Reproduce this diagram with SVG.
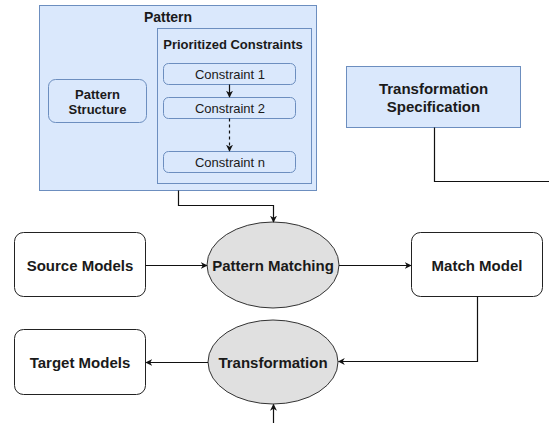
<svg xmlns="http://www.w3.org/2000/svg" width="549" height="423" viewBox="0 0 549 423">
<style>
text{font-family:"Liberation Sans",Arial,sans-serif;fill:#1a1a1a;text-anchor:middle;dominant-baseline:central}
.b{font-weight:bold}
.blue{fill:#dae8fc;stroke:#6c8ebf;stroke-width:1}
.box{fill:#ffffff;stroke:#222;stroke-width:1}
.ell{fill:#e0e0e0;stroke:#333;stroke-width:1}
.c{fill:none;stroke:#111;stroke-width:1.2}
</style>
<defs>
<marker id="ah" viewBox="0 0 10 10" refX="9" refY="5" markerWidth="7" markerHeight="7" orient="auto" markerUnits="userSpaceOnUse">
<path d="M0,0 L10,5 L0,10 L3,5 Z" fill="#111"/>
</marker>
</defs>
<rect width="549" height="423" fill="#ffffff"/>
<g id="pattern">
<rect class="blue" x="39.5" y="5.5" width="277" height="185"/>
<text class="b" x="168" y="17" font-size="14">Pattern</text>
</g>
<g id="pattern-structure">
<rect class="blue" x="48.5" y="79.5" width="98" height="43" rx="7"/>
<text class="b" x="97.5" y="94" font-size="13">Pattern</text>
<text class="b" x="97.5" y="109" font-size="13">Structure</text>
</g>
<g id="prioritized-constraints">
<rect class="blue" x="157.5" y="28.5" width="154" height="155"/>
<text class="b" x="233" y="44" font-size="13">Prioritized Constraints</text>
</g>
<g id="constraint-1">
<rect class="blue" x="163.5" y="63.5" width="132" height="21" rx="5"/>
<text x="230" y="74" font-size="13">Constraint 1</text>
</g>
<g id="constraint-2">
<rect class="blue" x="163.5" y="97.5" width="132" height="21" rx="5"/>
<text x="230" y="108" font-size="13">Constraint 2</text>
</g>
<g id="constraint-n">
<rect class="blue" x="163.5" y="151.5" width="132" height="21" rx="5"/>
<text x="230" y="162" font-size="13">Constraint n</text>
</g>
<g id="transformation-specification">
<rect class="blue" x="346.5" y="66.5" width="174" height="61"/>
<text class="b" x="433.5" y="88" font-size="15">Transformation</text>
<text class="b" x="433.5" y="106" font-size="15">Specification</text>
</g>
<g id="source-models">
<rect class="box" x="14.5" y="232.5" width="131" height="64" rx="9"/>
<text class="b" x="80" y="265" font-size="15">Source Models</text>
</g>
<g id="pattern-matching">
<ellipse class="ell" cx="273" cy="265" rx="66" ry="43"/>
<text class="b" x="273" y="265" font-size="15">Pattern Matching</text>
</g>
<g id="match-model">
<rect class="box" x="411.5" y="232.5" width="131" height="64" rx="9"/>
<text class="b" x="477" y="265" font-size="15">Match Model</text>
</g>
<g id="target-models">
<rect class="box" x="14.5" y="329.5" width="131" height="65" rx="9"/>
<text class="b" x="80" y="362" font-size="15">Target Models</text>
</g>
<g id="transformation">
<ellipse class="ell" cx="273" cy="362" rx="65" ry="42"/>
<text class="b" x="273" y="362" font-size="15">Transformation</text>
</g>
<g id="connectors">
<path class="c" d="M229.5,84.5 V97" marker-end="url(#ah)"/>
<path class="c" d="M229.5,118.5 V151" stroke-dasharray="3,3" marker-end="url(#ah)"/>
<path class="c" d="M178.5,190.5 V205.5 H273.5 V222" marker-end="url(#ah)"/>
<path class="c" d="M434.5,127.5 V181.5 H549"/>
<path class="c" d="M145.5,265.5 H207" marker-end="url(#ah)"/>
<path class="c" d="M339,265.5 H411" marker-end="url(#ah)"/>
<path class="c" d="M477.5,296.5 V361.5 H338.5" marker-end="url(#ah)"/>
<path class="c" d="M208,362.5 H146" marker-end="url(#ah)"/>
<path class="c" d="M273.5,423 V404.5" marker-end="url(#ah)"/>
</g>
</svg>
